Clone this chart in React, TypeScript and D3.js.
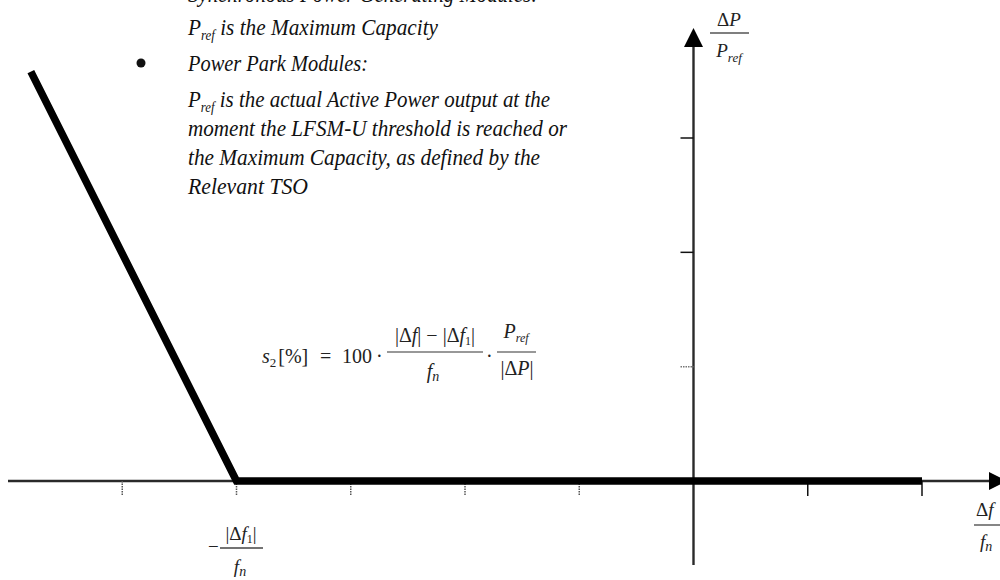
import React from "react";
import * as d3 from "d3";

// ---- data ----
const xDomain: number[] = [-6, 2];
const yDomain: number[] = [0, 3];
const xTicks: number[] = [-5, -4, -3, -2, -1, 1, 2];
const yTicks: number[] = [1, 2, 3];
const responseX: number[] = [-5.8, -4, 2];
const responseY: number[] = [3.58, 0, 0];
const noteLines: string[] = [
  "Synchronous Power Generating Modules:",
  "|ref| is the Maximum Capacity",
  "Power Park Modules:",
  "|ref| is the actual Active Power output at the",
  "moment the LFSM-U threshold is reached or",
  "the Maximum Capacity, as defined by the",
  "Relevant TSO",
];
const noteBaselines: number[] = [2, 35, 71, 107, 136, 165, 194];
const noteWidths: number[] = [350, 250, 180, 362, 379, 352, 120];

const W = 1000;
const H = 580;

const serif = "'Liberation Serif', 'DejaVu Serif', serif";

function NoteLine({ text, y, w }: { text: string; y: number; w: number }) {
  const hasP = text.startsWith("|ref|");
  const rest = hasP ? text.slice(5) : text;
  return (
    <text
      x={188}
      y={y}
      fontFamily={serif}
      fontStyle="italic"
      fontSize={23}
      fill="#111"
      textLength={w}
      lengthAdjust="spacingAndGlyphs"
    >
      {hasP ? (
        <>
          <tspan>P</tspan>
          <tspan fontSize={14} dy={5}>ref</tspan>
          <tspan dy={-5}>{rest}</tspan>
        </>
      ) : (
        rest
      )}
    </text>
  );
}

export default function App() {
  const x = d3.scaleLinear().domain(xDomain).range([8, 922]);
  const y = d3.scaleLinear().domain(yDomain).range([481, 138]);
  const x0 = x(0);
  const y0 = y(0);
  const line = d3
    .line<number>()
    .x((_, i) => x(responseX[i]))
    .y((d) => y(d));
  const pathD = line(responseY) || "";

  const axisColor = "#2a2a2a";
  const xEnd = 989;
  const yTop = 47;
  const yBottom = y(-0.735);

  return (
    <svg
      width={W}
      height={H}
      style={{ position: "absolute", left: 0, top: 0, background: "#fff" }}
    >
      <rect x={0} y={0} width={W} height={H} fill="#fff" />

      {/* notes */}
      {noteLines.map((t, i) => (
        <NoteLine key={i} text={t} y={noteBaselines[i]} w={noteWidths[i]} />
      ))}
      <circle cx={141} cy={63} r={4.5} fill="#111" />

      {/* x axis */}
      <line x1={x(-6)} x2={xEnd} y1={y0} y2={y0} stroke={axisColor} strokeWidth={2.4} />
      <path
        d={`M${xEnd},${y0 - 9} L${xEnd + 18},${y0} L${xEnd},${y0 + 9} Z`}
        fill="#000"
      />
      {xTicks.map((t) => (
        <line
          key={t}
          x1={x(t)}
          x2={x(t)}
          y1={y0}
          y2={y0 + 15}
          stroke={t > 0 ? "#111" : "#555"}
          strokeWidth={1.5}
          strokeDasharray={t > 0 ? undefined : "1.5 1"}
        />
      ))}

      {/* y axis */}
      <line x1={x0} x2={x0} y1={yBottom} y2={yTop} stroke={axisColor} strokeWidth={2.4} />
      <path
        d={`M${x0 - 9.5},${yTop} L${x0},${28} L${x0 + 9.5},${yTop} Z`}
        fill="#000"
      />
      {yTicks.map((t) => (
        <line
          key={t}
          x1={x0 - 13}
          x2={x0}
          y1={y(t)}
          y2={y(t)}
          stroke={t === 1 ? "#777" : "#111"}
          strokeWidth={1.5}
          strokeDasharray={t === 1 ? "1.5 1" : undefined}
        />
      ))}

      {/* response line */}
      <path
        d={pathD}
        fill="none"
        stroke="#000"
        strokeWidth={7.5}
        strokeLinejoin="miter"
        strokeLinecap="butt"
      />

      {/* y axis label */}
      <g fontFamily={serif} fontSize={19} fill="#222">
        <text x={729} y={26} textAnchor="middle">
          Δ<tspan fontStyle="italic">P</tspan>
        </text>
        <line x1={710} x2={749} y1={33} y2={33} stroke="#555" strokeWidth={1.3} />
        <text x={729} y={57} textAnchor="middle">
          <tspan fontStyle="italic">P</tspan>
          <tspan fontStyle="italic" fontSize={13} dy={5}>ref</tspan>
        </text>
      </g>

      {/* x axis label */}
      <g fontFamily={serif} fontSize={19} fill="#222">
        <text x={976} y={516}>
          Δ<tspan fontStyle="italic">f</tspan>
        </text>
        <line x1={974} x2={1000} y1={525} y2={525} stroke="#444" strokeWidth={1.3} />
        <text x={980} y={548}>
          <tspan fontStyle="italic">f</tspan>
          <tspan fontStyle="italic" fontSize={14} dy={3}>n</tspan>
        </text>
      </g>

      {/* threshold label */}
      <g fontFamily={serif} fontSize={19} fill="#222">
        <text x={208} y={553}>−</text>
        <line x1={220} x2={263} y1={548} y2={548} stroke="#444" strokeWidth={1.3} />
        <text x={241} y={540} textAnchor="middle">
          |Δ<tspan fontStyle="italic">f</tspan>
          <tspan fontSize={12} dy={3}>1</tspan>
          <tspan dy={-3}>|</tspan>
        </text>
        <text x={240} y={573} textAnchor="middle">
          <tspan fontStyle="italic">f</tspan>
          <tspan fontStyle="italic" fontSize={14} dy={3}>n</tspan>
        </text>
      </g>

      {/* formula */}
      <g fontFamily={serif} fontSize={20} fill="#222">
        <text x={262} y={363}>
          <tspan fontStyle="italic">s</tspan>
          <tspan fontSize={13} dy={4}>2</tspan>
          <tspan dy={-4} dx={2}>[%]</tspan>
        </text>
        <text x={320} y={363}>=</text>
        <text x={342} y={363}>100</text>
        <text x={376} y={363}>·</text>
        <text x={435} y={342} textAnchor="middle">
          |Δ<tspan fontStyle="italic">f</tspan>| − |Δ<tspan fontStyle="italic">f</tspan>
          <tspan fontSize={12} dy={3}>1</tspan>
          <tspan dy={-3}>|</tspan>
        </text>
        <line x1={387} x2={483} y1={352} y2={352} stroke="#333" strokeWidth={1.2} />
        <text x={433} y={378} textAnchor="middle">
          <tspan fontStyle="italic">f</tspan>
          <tspan fontStyle="italic" fontSize={14} dy={3}>n</tspan>
        </text>
        <text x={486} y={363}>·</text>
        <text x={516} y={338} textAnchor="middle">
          <tspan fontStyle="italic">P</tspan>
          <tspan fontStyle="italic" fontSize={12} dy={4}>ref</tspan>
        </text>
        <line x1={497} x2={536} y1={352} y2={352} stroke="#333" strokeWidth={1.2} />
        <text x={517} y={375} textAnchor="middle">
          |Δ<tspan fontStyle="italic">P</tspan>|
        </text>
      </g>
    </svg>
  );
}
